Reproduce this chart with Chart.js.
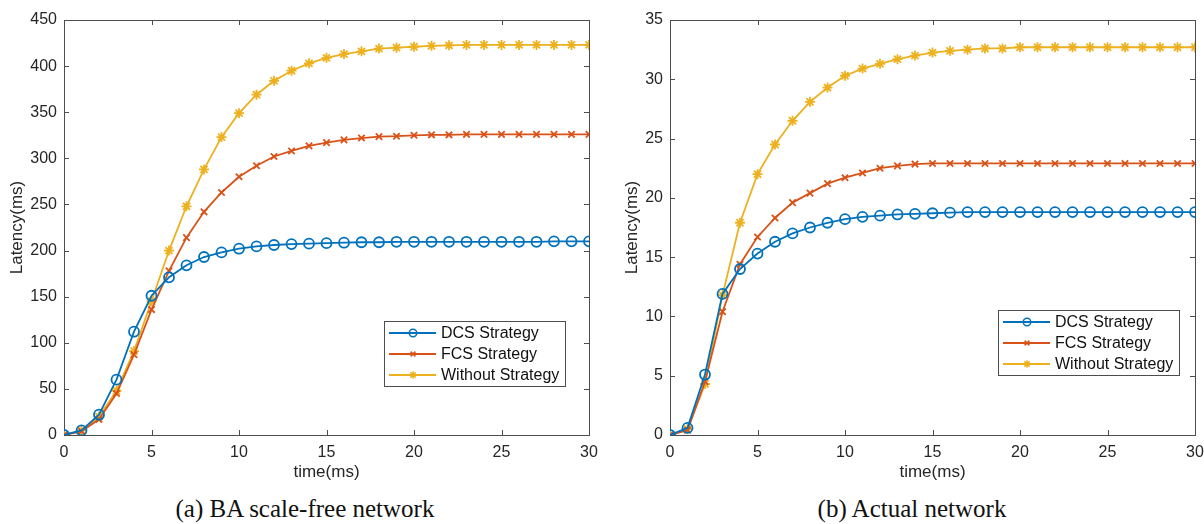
<!DOCTYPE html>
<html>
<head>
<meta charset="utf-8">
<script src="https://cdn.jsdelivr.net/npm/chart.js@4/dist/chart.umd.min.js"></script>
<style>
  body { margin: 0; background: #fff; }
  #wrap { position: relative; width: 1204px; height: 524px; overflow: hidden; font-family: "Liberation Sans", Arial, sans-serif; }
  .box { position: absolute; top: 0; height: 490px; }
  .cap { position: absolute; top: 494px; line-height: 30px; font-family: "Liberation Serif", "Times New Roman", serif; font-size: 25px; color: #111; text-align: center; white-space: nowrap; }
</style>
</head>
<body>
<div id="wrap">
  <div class="box" style="left:0;width:600px"><canvas id="baChart"></canvas></div>
  <div class="box" style="left:600px;width:604px"><canvas id="actualChart"></canvas></div>
  <div class="cap" style="left:5px;width:600px">(a) BA scale-free network</div>
  <div class="cap" style="left:612px;width:600px">(b) Actual network</div>
</div>
<script>
// time steps 0..30 ms
const timeSteps = [0,1,2,3,4,5,6,7,8,9,10,11,12,13,14,15,16,17,18,19,20,21,22,23,24,25,26,27,28,29,30];
const seriesNames = ['DCS Strategy', 'FCS Strategy', 'Without Strategy'];

// (a) BA scale-free network
const baDcs = [0,5,22,60,112,151,171,184,193,198,202,204.5,206,207,207.5,208,208.5,209,209,209.5,209.5,209.5,209.5,209.5,209.5,209.5,209.5,209.5,210,210,210];
const baFcs = [0,4,17,45,87,136,178,214,242,263,280,292,302,308,313.5,317,320,322,323.5,324,325,325.5,325.5,326,326,326,326,326,326,326,326];
const baWithout = [0,5,20,48,91,145,200,248,288,323,349,369,384,395,403,409,413,416,419,420,421,422,422.5,423,423,423,423,423,423,423,423];

// (b) Actual network
const acDcs = [0,0.6,5.1,11.9,14.0,15.3,16.3,17.0,17.5,17.9,18.2,18.4,18.5,18.6,18.65,18.7,18.75,18.8,18.8,18.8,18.8,18.8,18.8,18.8,18.8,18.8,18.8,18.8,18.8,18.8,18.8];
const acFcs = [0,0.4,4.5,10.4,14.4,16.7,18.3,19.6,20.4,21.2,21.7,22.1,22.5,22.7,22.85,22.9,22.9,22.9,22.9,22.9,22.9,22.9,22.9,22.9,22.9,22.9,22.9,22.9,22.9,22.9,22.9];
const acWithout = [0,0.5,4.3,11.8,17.9,22.0,24.5,26.5,28.1,29.3,30.3,30.9,31.3,31.7,32.0,32.25,32.4,32.5,32.6,32.6,32.7,32.7,32.7,32.7,32.7,32.7,32.7,32.7,32.7,32.7,32.7];

const xTicks = [0,5,10,15,20,25,30];
const baYTicks = [0,50,100,150,200,250,300,350,400,450];
const acYTicks = [0,5,10,15,20,25,30,35];

const colors = ['#0072BD', '#D95319', '#EDB120'];
const markers = ['circle', 'crossRot', 'star'];
const markerSizes = [5, 4.5, 5];
const axisColor = '#262626';
const fontFamily = '"Liberation Sans", Arial, sans-serif';

function makeDatasets(values) {
  return values.map((v, i) => ({
    label: seriesNames[i],
    data: timeSteps.map((t, j) => ({ x: t, y: v[j] })),
    borderColor: colors[i],
    backgroundColor: 'rgba(0,0,0,0)',
    borderWidth: 1.8,
    pointStyle: markers[i],
    pointRadius: markerSizes[i],
    pointBorderWidth: 1.8,
    pointBorderColor: colors[i],
    pointBackgroundColor: 'rgba(0,0,0,0)',
    tension: 0
  }));
}

function drawMarker(ctx, style, x, y, r) {
  ctx.beginPath();
  if (style === 'circle') {
    ctx.arc(x, y, r, 0, Math.PI * 2);
  } else {
    const d = r * Math.SQRT1_2;
    ctx.moveTo(x - d, y - d); ctx.lineTo(x + d, y + d);
    ctx.moveTo(x - d, y + d); ctx.lineTo(x + d, y - d);
    if (style === 'star') {
      ctx.moveTo(x - r, y); ctx.lineTo(x + r, y);
      ctx.moveTo(x, y - r); ctx.lineTo(x, y + r);
    }
  }
  ctx.stroke();
}

// MATLAB style box with inward ticks, plus legend inside the axes
const matlabAxes = {
  id: 'matlabAxes',
  beforeDatasetsDraw(chart) {
    const { ctx, chartArea: a, scales } = chart;
    ctx.save();
    ctx.strokeStyle = '#4d4d4d';
    ctx.lineWidth = 1;
    ctx.strokeRect(Math.round(a.left) + 0.5, Math.round(a.top) + 0.5, Math.round(a.right - a.left), Math.round(a.bottom - a.top));
    const len = 5;
    ctx.beginPath();
    scales.x.ticks.forEach(t => {
      const px = Math.round(scales.x.getPixelForValue(t.value)) + 0.5;
      ctx.moveTo(px, a.bottom); ctx.lineTo(px, a.bottom - len);
      ctx.moveTo(px, a.top); ctx.lineTo(px, a.top + len);
    });
    scales.y.ticks.forEach(t => {
      const py = Math.round(scales.y.getPixelForValue(t.value)) + 0.5;
      ctx.moveTo(a.left, py); ctx.lineTo(a.left + len, py);
      ctx.moveTo(a.right, py); ctx.lineTo(a.right - len, py);
    });
    ctx.stroke();
    ctx.restore();
  },
  afterDraw(chart, args, opts) {
    const { ctx, chartArea: a } = chart;
    const w = 181, h = 65;
    const left = Math.round(a.right - opts.offRight - w);
    const top = Math.round(a.bottom - opts.offBottom - h);
    ctx.save();
    ctx.fillStyle = '#fff';
    ctx.fillRect(left, top, w, h);
    ctx.strokeStyle = '#4d4d4d';
    ctx.lineWidth = 1;
    ctx.strokeRect(left + 0.5, top + 0.5, w, h);
    ctx.font = '16px ' + fontFamily;
    ctx.textBaseline = 'middle';
    chart.data.datasets.forEach((ds, i) => {
      const y = top + 12 + i * 21;
      ctx.strokeStyle = ds.borderColor;
      ctx.lineWidth = 1.8;
      ctx.beginPath();
      ctx.moveTo(left + 5, y); ctx.lineTo(left + 52, y);
      ctx.stroke();
      ctx.lineWidth = 1.5;
      drawMarker(ctx, ds.pointStyle, left + 29, y, ds.pointRadius * 0.75);
      ctx.fillStyle = '#111';
      ctx.fillText(ds.label, left + 57, y + 1);
    });
    ctx.restore();
  }
};

function buildChart(id, values, yMax, yTicks, yWidth, titlePad, rightPad, legendPos) {
  return new Chart(document.getElementById(id), {
    type: 'line',
    data: { datasets: makeDatasets(values) },
    plugins: [matlabAxes],
    options: {
      responsive: false,
      animation: false,
      devicePixelRatio: 1,
      layout: { padding: { top: 20, right: rightPad, bottom: 0, left: 0 } },
      plugins: {
        legend: { display: false },
        tooltip: { enabled: false },
        matlabAxes: legendPos
      },
      scales: {
        x: {
          type: 'linear',
          min: 0, max: 30,
          afterBuildTicks: s => { s.ticks = xTicks.map(v => ({ value: v })); },
          afterFit: s => { s.height = 55; s.paddingLeft = 0; s.paddingRight = 0; },
          grid: { display: false, drawTicks: false },
          border: { display: false },
          ticks: { padding: 8, color: axisColor, font: { size: 16, family: fontFamily } },
          title: { display: true, text: 'time(ms)', color: axisColor, padding: { top: 0, bottom: 7 }, font: { size: 17, family: fontFamily } }
        },
        y: {
          min: 0, max: yMax,
          afterBuildTicks: s => { s.ticks = yTicks.map(v => ({ value: v })); },
          afterFit: s => { s.width = yWidth; s.paddingTop = 0; s.paddingBottom = 0; },
          grid: { display: false, drawTicks: false },
          border: { display: false },
          ticks: { padding: 7, color: axisColor, font: { size: 16, family: fontFamily } },
          title: { display: true, text: 'Latency(ms)', color: axisColor, padding: { top: titlePad, bottom: 0 }, font: { size: 17, family: fontFamily } }
        }
      }
    }
  });
}

document.getElementById('baChart').width = 600;
document.getElementById('baChart').height = 490;
document.getElementById('actualChart').width = 604;
document.getElementById('actualChart').height = 490;

buildChart('baChart', [baDcs, baFcs, baWithout], 450, baYTicks, 64, 7, 11, { offRight: 24, offBottom: 49 });
buildChart('actualChart', [acDcs, acFcs, acWithout], 35, acYTicks, 70, 22, 9, { offRight: 16, offBottom: 60 });
</script>
</body>
</html>
